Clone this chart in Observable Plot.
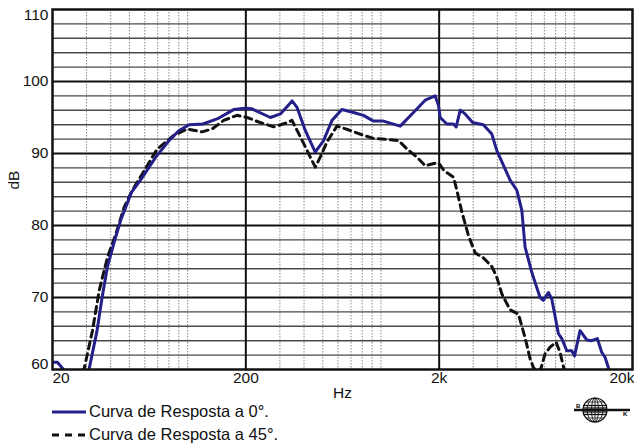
<!DOCTYPE html>
<html>
<head>
<meta charset="utf-8">
<script src="https://cdn.jsdelivr.net/npm/d3@7"></script>
<script src="https://cdn.jsdelivr.net/npm/@observablehq/plot@0.6"></script>
<style>
  html, body { margin: 0; padding: 0; background: #fff; }
  body { width: 634px; height: 443px; position: relative; overflow: hidden; font-family: "Liberation Sans", Arial, sans-serif; }
  #chart svg { display: block; }
  #legend { position: absolute; left: 52px; top: 400px; font-size: 16.5px; color: #111; }
  #legend .row { display: flex; align-items: center; height: 23px; }
  #legend svg { margin-right: 3px; }
  #logo { position: absolute; left: 568px; top: 394px; }
</style>
</head>
<body>
<div id="chart"></div>
<div id="legend">
  <div class="row"><svg width="34" height="10"><line x1="0" y1="5" x2="34" y2="5" stroke="#24208a" stroke-width="3"/></svg><span>Curva de Resposta a 0°.</span></div>
  <div class="row"><svg width="34" height="10"><line x1="0" y1="5" x2="34" y2="5" stroke="#111" stroke-width="3" stroke-dasharray="7,6"/></svg><span>Curva de Resposta a 45°.</span></div>
</div>
<svg id="logo" width="64" height="32">
  <g stroke="#111" fill="none">
    <circle cx="27" cy="16" r="12" stroke-width="1.2"/>
    <ellipse cx="27" cy="16" rx="8" ry="12" stroke-width="0.9"/>
    <ellipse cx="27" cy="16" rx="3.5" ry="12" stroke-width="0.9"/>
    <line x1="27" y1="4" x2="27" y2="28" stroke-width="0.9"/>
    <line x1="18" y1="8" x2="36" y2="8" stroke-width="0.8"/>
    <line x1="18" y1="24" x2="36" y2="24" stroke-width="0.8"/>
    <line x1="15" y1="11.5" x2="39" y2="11.5" stroke-width="1.3"/>
    <line x1="15" y1="14" x2="39" y2="14" stroke-width="1.3"/>
    <line x1="15" y1="18" x2="39" y2="18" stroke-width="1.3"/>
    <line x1="15" y1="20.5" x2="39" y2="20.5" stroke-width="1.3"/>
    <line x1="6" y1="16" x2="62" y2="16" stroke-width="2.4"/>
  </g>
  <text x="8" y="14" font-size="6" font-weight="bold" font-family="Liberation Sans, Arial">B</text>
  <text x="55" y="22" font-size="6" font-weight="bold" font-family="Liberation Sans, Arial">K</text>
</svg>
<script>
// ---- Data ----
const freq0 = [20, 21.2, 22.8, 26.3, 30.9, 34.0, 36.1, 38.5, 41.5, 45.0, 51.2, 58.4, 68.4, 80.2, 90.3, 101.8, 120, 142, 173, 199, 215, 268, 302, 347, 368, 406, 457, 505, 558, 628, 721, 812, 915, 1031, 1257, 1473, 1693, 1907, 1983, 2024, 2192, 2371, 2449, 2568, 2725, 2980, 3386, 3745, 3975, 4656, 5043, 5353, 5566, 6028, 6268, 6653, 6919, 7344, 7647, 8272, 8614, 9141, 9701, 10030, 10706, 11596, 12306, 13157, 13862, 14417, 15210, 16242];
const db0 = [61.0, 61.0, 60.0, 56.5, 60.0, 65.4, 70.0, 74.3, 77.5, 80.7, 84.6, 86.7, 89.5, 91.8, 93.2, 94.0, 94.1, 94.8, 96.1, 96.3, 96.2, 95.0, 95.5, 97.3, 96.4, 93.2, 90.2, 91.8, 94.6, 96.1, 95.7, 95.3, 94.5, 94.5, 93.8, 95.7, 97.4, 98.0, 96.7, 95.0, 94.1, 94.1, 93.7, 96.0, 95.5, 94.3, 94.0, 92.7, 90.4, 86.3, 84.9, 82.1, 77.0, 73.5, 72.1, 70.0, 69.6, 70.7, 69.8, 65.0, 64.3, 62.6, 62.6, 61.9, 65.4, 64.1, 64.0, 64.3, 62.4, 61.7, 59.8, 57];

const freq45 = [27.9, 29.1, 32.2, 34.9, 38.5, 42.5, 46.9, 51.8, 58.4, 69.5, 84.7, 99.3, 118.7, 133.8, 153.6, 180.1, 202.9, 237.8, 278.5, 320, 346.6, 360.4, 397.9, 430.9, 457.4, 485.3, 525.7, 592.1, 693.7, 797.2, 915, 1073, 1232, 1362, 1534, 1693, 1907, 1983, 2122, 2371, 2469, 2620, 2834, 3070, 3386, 3745, 3975, 4217, 4656, 5140, 5566, 5906, 6142, 6420, 6733, 7062, 7495, 8051, 8439, 8781, 9173];
const db45 = [58, 60.0, 65.4, 71.0, 75.6, 78.8, 82.5, 84.9, 87.2, 90.6, 92.5, 93.4, 93.0, 93.4, 94.6, 95.3, 95.0, 94.3, 93.7, 94.2, 94.6, 93.7, 91.4, 89.5, 88.1, 89.5, 91.6, 93.8, 93.2, 92.6, 92.1, 91.95, 91.8, 90.65, 89.5, 88.3, 88.65, 88.7, 87.6, 86.7, 84.9, 81.9, 78.6, 76.2, 75.5, 74.3, 72.8, 70.5, 68.3, 67.7, 64.4, 61.5, 60.3, 59.6, 60.2, 62.2, 63.1, 63.8, 62.4, 60.4, 58];

const xMajor = [20, 200, 2000, 20000];
const xMajorLabels = ["20", "200", "2k", "20k"];
const xMinor = [30, 40, 50, 60, 70, 80, 90, 100, 300, 400, 500, 600, 700, 800, 900, 1000, 3000, 4000, 5000, 6000, 7000, 8000, 9000, 10000];
const yMajor = [60, 70, 80, 90, 100, 110];
const yMinor = d3.range(62, 110, 2).filter(v => v % 10 !== 0);

const curve0 = freq0.map((f, i) => ({f, db: db0[i]}));
const curve45 = freq45.map((f, i) => ({f, db: db45[i]}));

const font = "Liberation Sans, Arial, sans-serif";
const fs = 15.5;

const chart = Plot.plot({
  width: 634,
  height: 403,
  marginLeft: 52,
  marginRight: 2,
  marginTop: 9,
  marginBottom: 34,
  style: {fontFamily: font, fontSize: "15px", color: "#111", background: "#fff", overflow: "visible"},
  x: {type: "log", domain: [20, 20000], axis: null},
  y: {domain: [60, 110], axis: null},
  marks: [
    Plot.ruleX(xMinor, {stroke: "#8a8a8a", strokeWidth: 1, strokeDasharray: "1.5,1.5"}),
    Plot.ruleY(yMinor, {stroke: "#4a4a4a", strokeWidth: 1.4}),
    Plot.ruleY([70, 80, 90, 100], {stroke: "#111", strokeWidth: 2}),
    Plot.ruleX([200, 2000], {stroke: "#111", strokeWidth: 2}),
    Plot.line(curve45, {x: "f", y: "db", stroke: "#111", strokeWidth: 3, strokeDasharray: "7,5", clip: true}),
    Plot.line(curve0, {x: "f", y: "db", stroke: "#24208a", strokeWidth: 3, strokeLinejoin: "round", clip: true}),
    Plot.frame({stroke: "#111", strokeWidth: 2.5}),
    // y tick labels
    Plot.text([70, 80, 90, 100], {frameAnchor: "left", y: d => d, text: d => String(d), textAnchor: "end", dx: -4, fontSize: fs}),
    Plot.text([110], {frameAnchor: "left", y: d => d, text: d => String(d), textAnchor: "end", dx: -4, dy: 6, fontSize: fs}),
    Plot.text([60], {frameAnchor: "left", y: d => d, text: d => String(d), textAnchor: "end", dx: -4, dy: -5, fontSize: fs}),
    // x tick labels
    Plot.text([xMajor[0]], {x: d => d, frameAnchor: "bottom", text: () => xMajorLabels[0], textAnchor: "start", dy: 13, fontSize: fs}),
    Plot.text(xMajor.slice(1, 3), {x: d => d, frameAnchor: "bottom", text: (d, i) => xMajorLabels[i + 1], textAnchor: "middle", dy: 13, fontSize: fs}),
    Plot.text([xMajor[3]], {x: d => d, frameAnchor: "bottom", text: () => xMajorLabels[3], textAnchor: "end", dx: 2, dy: 13, fontSize: fs}),
    // axis titles
    Plot.text(["Hz"], {frameAnchor: "bottom", text: d => d, dy: 28, fontSize: fs}),
    Plot.text(["dB"], {frameAnchor: "left", text: d => d, rotate: -90, dx: -38, fontSize: fs})
  ]
});
document.getElementById("chart").appendChild(chart);
</script>
</body>
</html>
